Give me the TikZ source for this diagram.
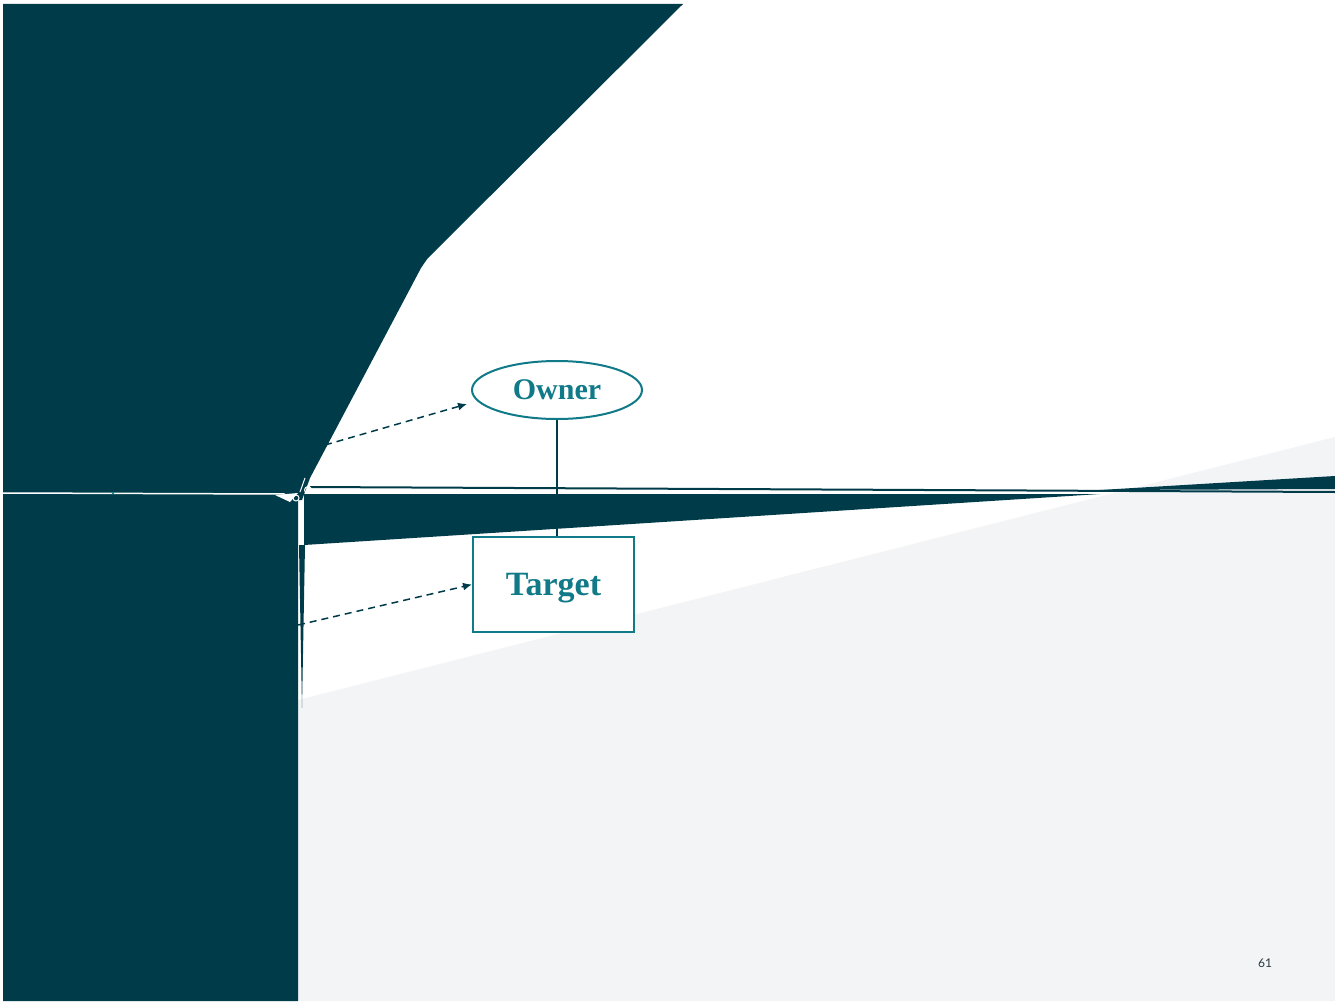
\documentclass[tikz,border=0pt]{standalone}
\usepackage{fontspec}
\setmainfont{Liberation Serif}
\newfontfamily\pagefont{Lato}
\usetikzlibrary{shapes.geometric,arrows.meta}
\definecolor{deep}{RGB}{0,59,74}
\definecolor{tealc}{RGB}{16,122,137}
\definecolor{pale}{RGB}{243,244,246}
\definecolor{pnum}{RGB}{40,56,64}
\tikzset{
  ownerbox/.style={ellipse,draw=tealc,line width=2pt,fill=white,minimum width=170pt,minimum height=58pt,inner sep=0pt,text=tealc,font=\bfseries\fontsize{30}{32}\selectfont},
  targetbox/.style={rectangle,draw=tealc,line width=2pt,fill=white,minimum width=161pt,minimum height=95pt,inner sep=0pt,text depth=0pt,text=tealc,font=\bfseries\fontsize{34}{36}\selectfont},
  dasharrow/.style={draw=deep,line width=1.5pt,dash pattern=on 7pt off 5pt,-{Latex[length=9pt,width=8pt]}},
  linkline/.style={draw=deep,line width=1.3pt}
}
\begin{document}
\begin{tikzpicture}[x=1pt,y=-1pt]
\useasboundingbox (0,0) rectangle (1335,1003);
\fill[white] (0,0) rectangle (1335,1003);
% pale background wedge
\fill[pale] (298,700) -- (1335,437) -- (1335,1001) -- (298,1001) -- cycle;
% main dark shape
\fill[deep] (3,4) -- (683,4) -- (428,258) .. controls (425,262) and (423,265) .. (421,268) -- (310,478) -- (302,500) -- (298,500) -- (298,1001) -- (3,1001) -- cycle;
% lower wedge
\fill[deep] (304,494) -- (1100,494) -- (304,545) -- cycle;
% upper-right wedge
\fill[deep] (1100,490) -- (1335,476) -- (1335,489) -- cycle;
% thin dark line with white gap
\draw[deep,line width=2pt] (310,487) -- (1335,492);
% dark sliver
\fill[deep] (299,545) -- (305,545) -- (302,708) -- cycle;
% white horizontal line on left
\draw[white,line width=1.5pt] (3,493) -- (285,494);
\fill[tealc] (113,493) circle (1.3pt);
% junction scribbles
\fill[white] (275,495) -- (298,493) -- (290,502) -- cycle;
\draw[white,line width=1pt] (308,490) circle (3.5pt);
\draw[white,line width=1pt] (296,498) circle (3pt);
\draw[white,line width=1pt] (305,478) -- (300,492);
% nodes
\node[ownerbox] (owner) at (557,390) {Owner};
\node[targetbox] (target) at (553.5,584.5) {Target};
% connector
\draw[linkline] (owner.south) -- (owner.south |- target.north);
% dashed arrows
\coordinate (s1) at (325,445);
\coordinate (e1) at (467,404);
\coordinate (s2) at (298,625);
\draw[dasharrow] (s1) -- (e1);
\draw[dasharrow] (s2) -- (target.west);
% page number
\node[text=pnum,font=\pagefont\fontsize{12}{14}\selectfont] (pg) at (1265,963) {61};
\end{tikzpicture}
\end{document}
